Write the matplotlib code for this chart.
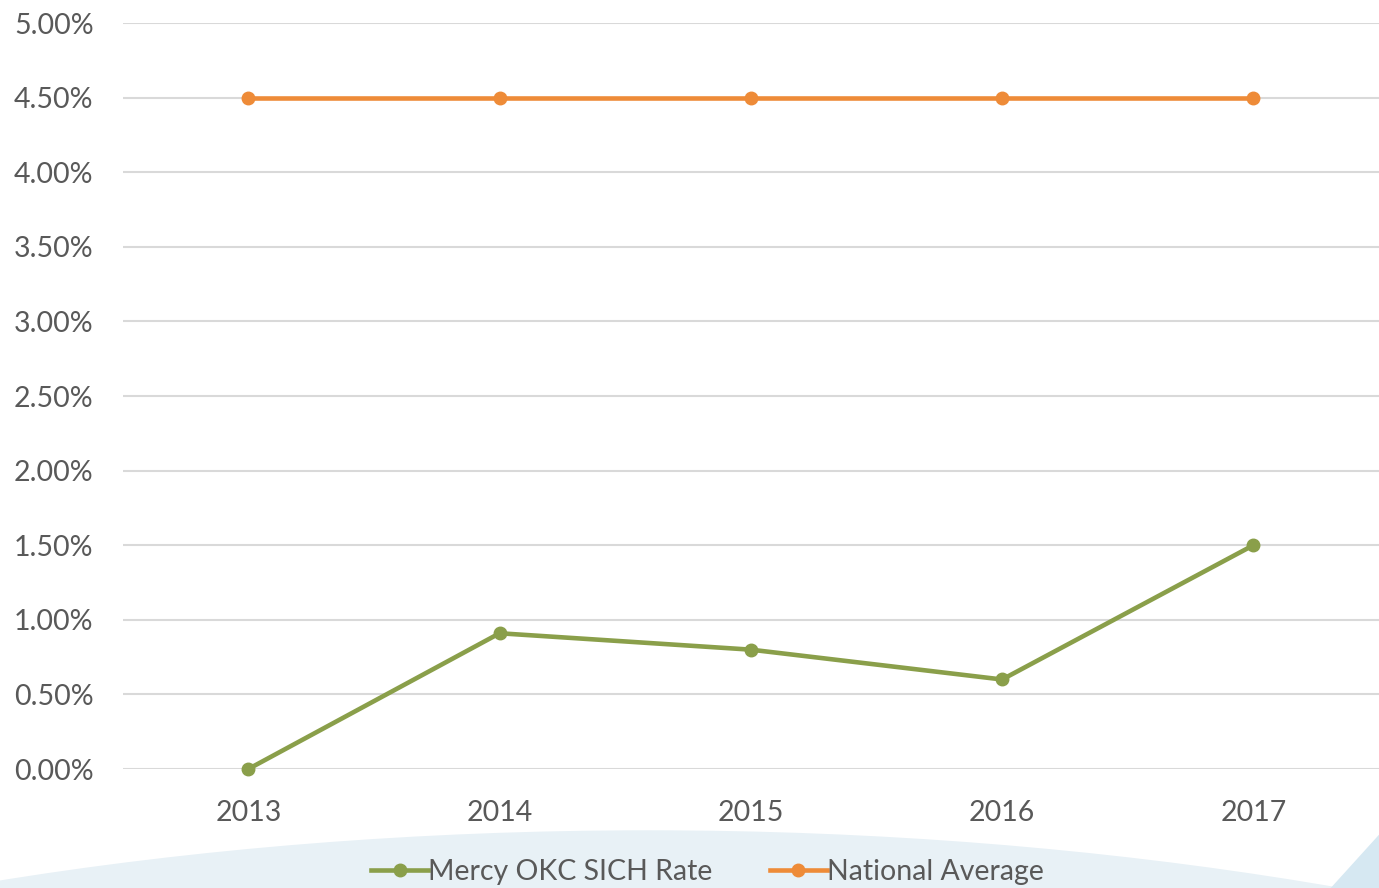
import matplotlib.pyplot as plt
from matplotlib.patches import Ellipse, Polygon
from matplotlib.ticker import FuncFormatter

# Dados do gráfico
anos = ['2013', '2014', '2015', '2016', '2017']
taxa_mercy = [0.00, 0.91, 0.80, 0.60, 1.50]
media_nacional = [4.50, 4.50, 4.50, 4.50, 4.50]
yticks = [0.0, 0.5, 1.0, 1.5, 2.0, 2.5, 3.0, 3.5, 4.0, 4.5, 5.0]

verde = '#8A9F4A'
laranja = '#EE8B38'
cinza = '#595959'

plt.rcParams['font.family'] = ['Lato', 'DejaVu Sans']

fig = plt.figure(figsize=(13.79, 8.88), dpi=100)

# Fundo decorativo azul claro na parte de baixo
fig.patches.append(Ellipse((0.47, -0.705), 2.5, 1.54, transform=fig.transFigure,
                           facecolor='#E8F1F6', edgecolor='none', zorder=-2))
fig.patches.append(Polygon([(0.965, 0.0), (1.0, 0.06), (1.0, 0.0)], closed=True,
                           transform=fig.transFigure, facecolor='#D6E8F2',
                           edgecolor='none', zorder=-2))

ax = fig.add_axes([0.089, 0.134, 0.911, 0.840])
ax.set_facecolor('none')

x = range(len(anos))
ax.plot(x, taxa_mercy, color=verde, linewidth=3.3, marker='o', markersize=9,
        label='Mercy OKC SICH Rate', zorder=3, clip_on=False)
ax.plot(x, media_nacional, color=laranja, linewidth=3.3, marker='o', markersize=9,
        label='National Average', zorder=3, clip_on=False)

ax.set_xlim(-0.5, 4.5)
ax.set_ylim(0, 5)
ax.set_yticks(yticks)
ax.yaxis.set_major_formatter(FuncFormatter(lambda v, p: f'{v:.2f}%'))
ax.set_xticks(list(x))
ax.set_xticklabels(anos)
ax.grid(axis='y', color='#D9D9D9', linewidth=1.5)
ax.set_axisbelow(True)
for s in ax.spines.values():
    s.set_visible(False)
ax.tick_params(axis='both', length=0, labelsize=20.5, labelcolor=cinza)
ax.tick_params(axis='y', pad=21)
ax.tick_params(axis='x', pad=22)

fig.legend(loc='center', bbox_to_anchor=(0.513, 0.018), ncol=2, frameon=False,
           fontsize=20.5, labelcolor=cinza, handlelength=2.0, handletextpad=0.0,
           columnspacing=2.0)

fig.savefig('out.png', dpi=100)
